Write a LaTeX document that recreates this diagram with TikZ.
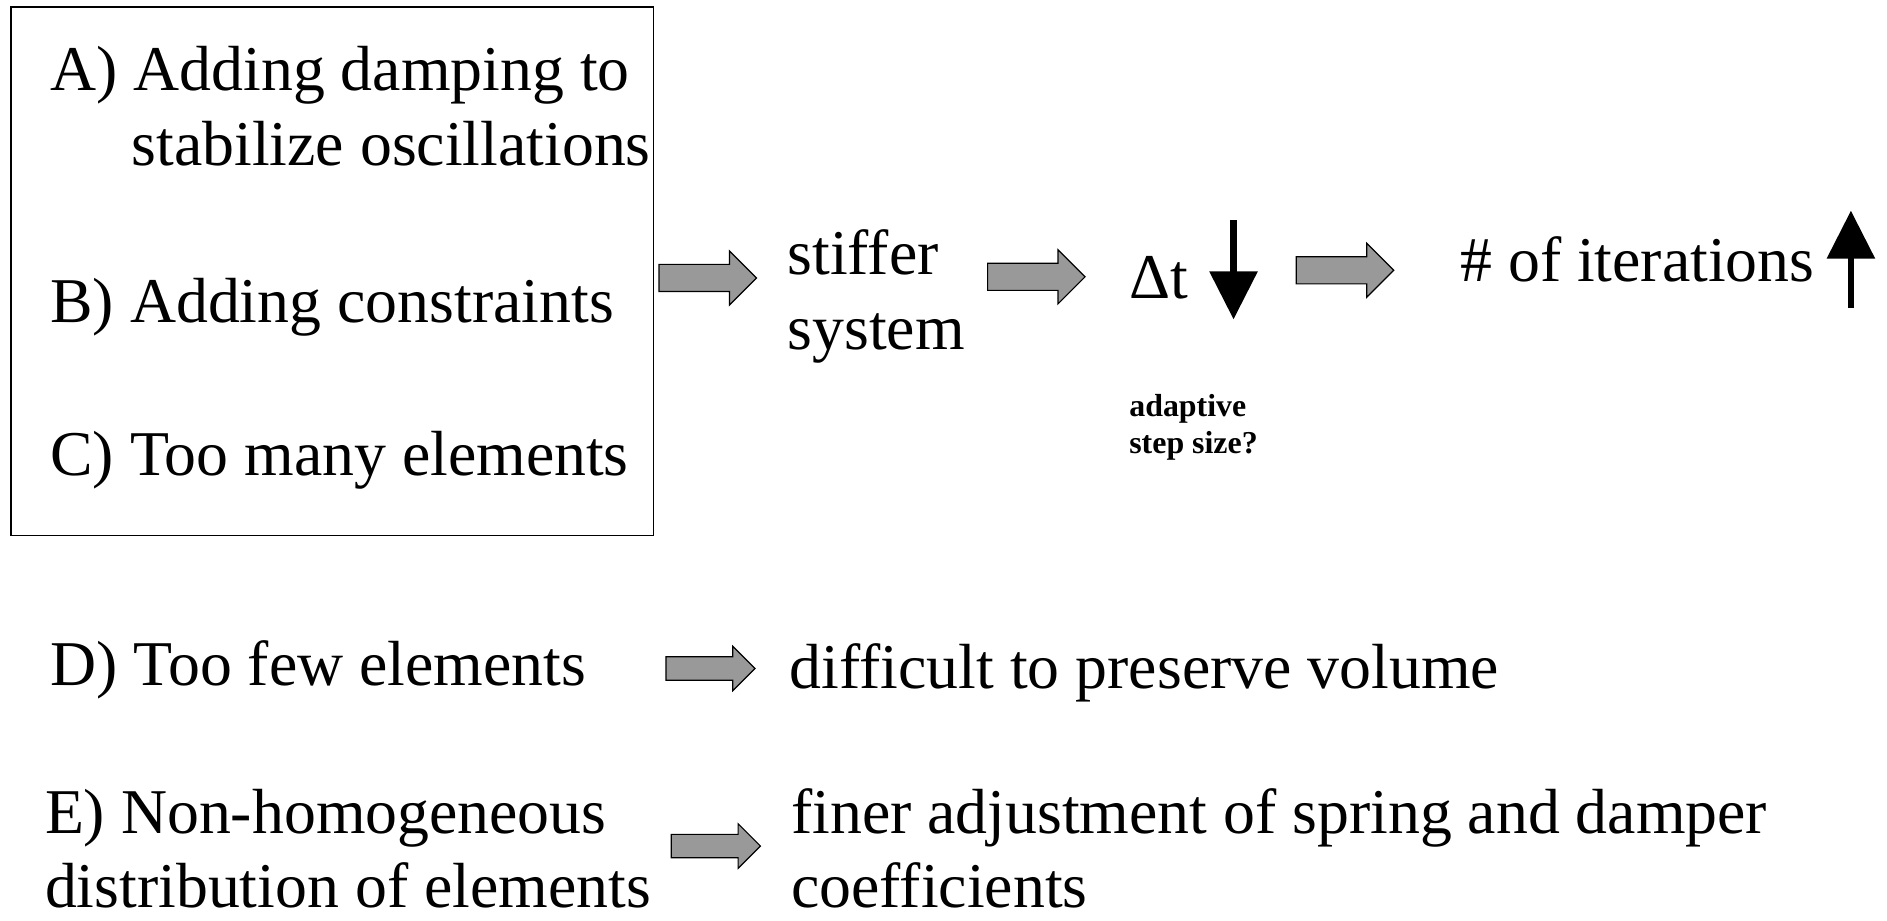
\documentclass[tikz,border=0pt]{standalone}
\usepackage{fontspec}
\setmainfont{Liberation Serif}
\usetikzlibrary{shapes.arrows,arrows.meta}
\definecolor{arrowgray}{RGB}{153,153,153}
\begin{document}
\begin{tikzpicture}[x=0.5pt,y=-0.5pt,
  bigtext/.style={inner sep=0pt,anchor=base west,font=\fontsize{26.5}{31}\selectfont},
  smalltext/.style={inner sep=0pt,anchor=base west,font=\fontsize{13.25}{16}\selectfont\bfseries},
  blockarrow/.style={single arrow,draw=black,line width=0.5pt,fill=arrowgray,
    inner xsep=0pt,inner ysep=5.4pt,single arrow tip angle=90,minimum height=40.5pt,
    single arrow head extend=5.6pt,single arrow head indent=0pt},
  smallarrow/.style={blockarrow,inner ysep=4.6pt,minimum height=37pt,
    single arrow head extend=4.4pt},
  trend/.style={line width=2.75pt,-{Triangle[length=20pt,width=19.5pt]}}]
\useasboundingbox (0,0) rectangle (1568,765);

% causes that stiffen the system
\node[draw=black,line width=0.6pt,minimum width=267pt,minimum height=219.5pt,inner sep=0pt]
  (causes) at (276,225.5) {};
\node[bigtext] (causeA) at (41.5,75.5) {A) Adding damping to};
\node[bigtext] (causeAb) at (109,137.5) {stabilize oscillations};
\node[bigtext] (causeB) at (41.5,268) {B) Adding constraints};
\node[bigtext] (causeC) at (41.5,394.7) {C) Too many elements};

% chain of consequences
\node[blockarrow] (arrowA) at (582.5,231) {};
\node[bigtext] (stiffer) at (654,228) {stiffer};
\node[bigtext] (system) at (654,290) {system};
\node[blockarrow] (arrowB) at (855.5,230) {};
\node[bigtext] (dt) at (938,248) {Δt};
\node[smalltext] (adaptive) at (938,346) {adaptive};
\node[smalltext] (stepsize) at (938,377) {step size?};
\node[blockarrow] (arrowC) at (1112,224.6) {};
\node[bigtext] (iter) at (1213,234) {\# of iterations};

% trend markers
\coordinate (dtTop) at (1025,183);
\coordinate (dtTip) at (1025,265.4);
\coordinate (itBottom) at (1538,256);
\coordinate (itTip) at (1538,175);
\draw[trend] (dtTop) -- (dtTip);
\draw[trend] (itBottom) -- (itTip);

% further cases
\node[bigtext] (causeD) at (41.5,570) {D) Too few elements};
\node[smallarrow] (arrowD) at (585.5,555.5) {};
\node[bigtext] (volume) at (656,572) {difficult to preserve volume};

\node[bigtext] (causeE) at (37,693) {E) Non-homogeneous};
\node[bigtext] (causeEb) at (37,754) {distribution of elements};
\node[smallarrow] (arrowE) at (590,703) {};
\node[bigtext] (finer) at (657,693) {finer adjustment of spring and damper};
\node[bigtext] (coeff) at (657,754) {coefficients};
\end{tikzpicture}
\end{document}
